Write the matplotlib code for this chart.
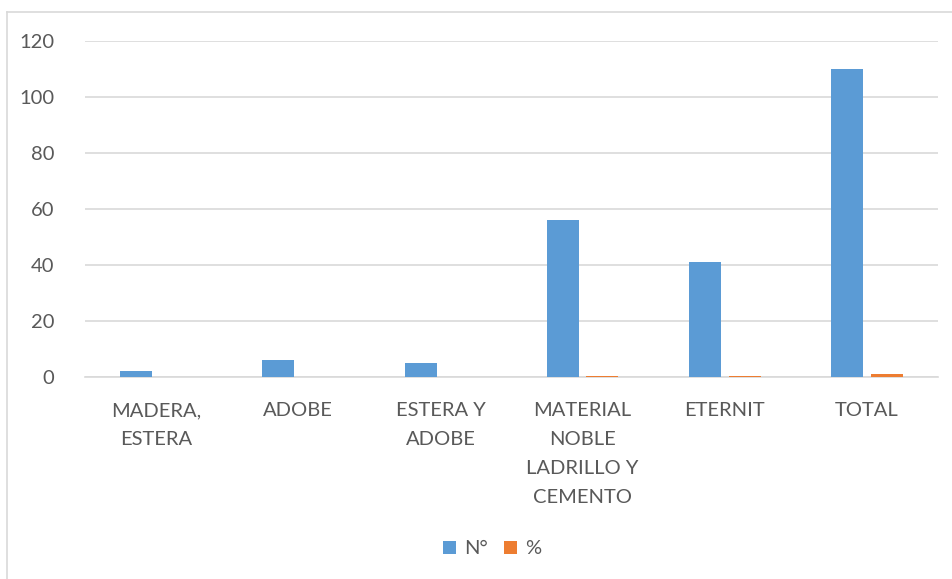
import numpy as np
import matplotlib.pyplot as plt
from matplotlib.lines import Line2D

categories = ["MADERA,\nESTERA", "ADOBE", "ESTERA Y\nADOBE",
              "MATERIAL\nNOBLE\nLADRILLO Y\nCEMENTO", "ETERNIT", "TOTAL"]
numero = [2, 6, 5, 56, 41, 110]
porcentaje = [0.02, 0.05, 0.05, 0.51, 0.37, 1.0]
yticks = [0, 20, 40, 60, 80, 100, 120]

blue = "#5B9BD5"
orange = "#ED7D31"
grid = "#D9D9D9"
txt = "#595959"

plt.rcParams['font.family'] = ['Lato', 'DejaVu Sans']

fig = plt.figure(figsize=(9.53, 5.79), dpi=100)
ax = fig.add_axes([85/953, 1-377/579, (938-85)/953, (377-41)/579])

x = np.arange(len(categories))
w = 0.225
ax.bar(x - 0.14, numero, w, color=blue, label="N°", zorder=3)
ax.bar(x + 0.14, porcentaje, w, color=orange, label="%", zorder=3)

ax.set_xlim(-0.5, len(categories) - 0.5)
ax.set_ylim(0, 120)
ax.set_yticks(yticks)
ax.yaxis.grid(True, color=grid, linewidth=1.2, zorder=0)
ax.tick_params(axis='y', length=0, pad=22, labelsize=14.5, labelcolor=txt)
ax.set_xticks(x)
ax.set_xticklabels(categories, linespacing=1.85)
ax.tick_params(axis='x', length=0, pad=18, labelsize=14.5, labelcolor=txt)
for s in ['top', 'right', 'left']:
    ax.spines[s].set_visible(False)
ax.spines['bottom'].set_color(grid)
ax.spines['bottom'].set_linewidth(1.2)

leg = fig.legend(loc='center', bbox_to_anchor=(492/953, 1-549/579), ncol=2,
                 frameon=False, fontsize=14.5, handlelength=0.65, handleheight=0.65,
                 columnspacing=0.8, handletextpad=0.4)
for t in leg.get_texts():
    t.set_color(txt)

# outer chart frame
fig.add_artist(Line2D([7/953, 7/953], [0, 1-12/579], color=grid, linewidth=1.2))
fig.add_artist(Line2D([7/953, 1], [1-12/579, 1-12/579], color=grid, linewidth=1.2))

fig.savefig("out.png", dpi=100)
